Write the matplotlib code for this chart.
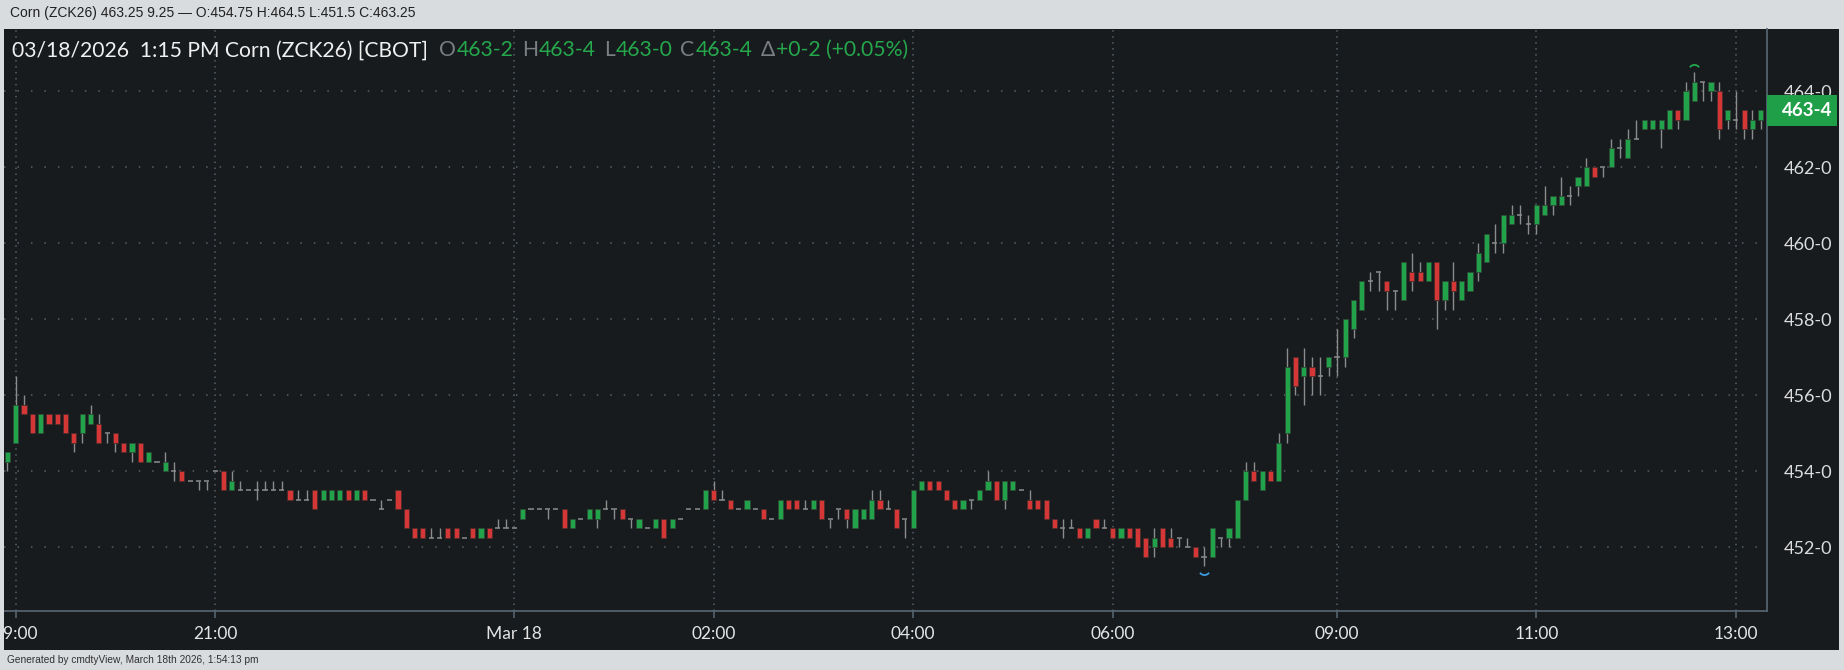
import numpy as np
import pandas as pd
import matplotlib
matplotlib.use('Agg')
import matplotlib.pyplot as plt
import matplotlib.transforms as mtransforms
from matplotlib.patches import Rectangle
from matplotlib.path import Path
from matplotlib.ticker import FuncFormatter

# 5 minute bars, ZCK26, last bar of Mar 17 day session + night + day session Mar 18
times = ([pd.Timestamp('2026-03-17 13:15')]
         + list(pd.date_range('2026-03-17 19:00', '2026-03-18 07:40', freq='5min'))
         + list(pd.date_range('2026-03-18 08:30', '2026-03-18 13:15', freq='5min')))

opens = [
    454.25, 454.75, 455.75, 455.5, 455.0, 455.5, 455.5, 455.5, 455.0, 455.0,
    455.25, 455.25, 455.0, 455.0, 454.75, 454.5, 454.75, 454.25, 454.25, 454.0,
    454.0, 454.0, 453.75, 453.75, 453.75, 454.0, 454.0, 453.5, 453.5, 453.5,
    453.5, 453.5, 453.5, 453.5, 453.5, 453.25, 453.25, 453.5, 453.25, 453.25,
    453.25, 453.5, 453.25, 453.5, 453.25, 453.0, 453.25, 453.5, 453.0, 452.5,
    452.5, 452.25, 452.25, 452.5, 452.5, 452.25, 452.5, 452.25, 452.5, 452.5,
    452.5, 452.5, 452.75, 453.0, 453.0, 453.0, 453.0, 453.0, 452.5, 452.75,
    452.75, 452.75, 453.0, 453.0, 453.0, 452.75, 452.5, 452.5, 452.5, 452.75,
    452.5, 452.75, 453.0, 453.0, 453.0, 453.5, 453.25, 453.25, 453.0, 453.0,
    453.0, 453.0, 452.75, 452.75, 453.25, 453.25, 453.0, 453.0, 453.25, 452.75,
    453.0, 453.0, 452.5, 452.75, 452.75, 453.25, 453.0, 453.0, 452.75, 452.5,
    453.5, 453.75, 453.75, 453.5, 453.25, 453.0, 453.25, 453.25, 453.5, 453.75,
    453.25, 453.5, 453.5, 453.25, 453.25, 453.25, 452.75, 452.5, 452.5, 452.5,
    452.25, 452.75, 452.5, 452.5, 452.25, 452.5, 452.5, 452.25, 452.0, 452.5,
    452.25, 452.25, 452.0, 452.0, 451.75, 451.75, 452.25, 452.25, 452.25, 453.25,
    454.0, 453.5, 454.0, 453.75, 455.0, 457.0, 456.5, 456.75, 456.5, 456.75,
    457.0, 457.0, 457.75, 458.25, 459.0, 459.25, 459.0, 458.75, 458.5, 459.25,
    459.25, 459.0, 459.5, 458.5, 459.0, 458.5, 458.75, 459.25, 459.5, 460.0,
    460.0, 460.5, 460.75, 460.5, 460.5, 460.75, 461.0, 461.0, 461.25, 461.5,
    461.5, 462.0, 462.0, 462.0, 462.5, 462.25, 462.75, 463.0, 463.0, 463.0,
    463.0, 463.5, 463.25, 463.75, 464.25, 464.0, 464.0, 463.25, 463.25, 463.5,
    463.0, 463.25]

highs = [
    454.5, 456.5, 456.0, 455.5, 455.5, 455.5, 455.5, 455.5, 455.0, 455.5,
    455.75, 455.5, 455.0, 455.0, 454.75, 454.75, 454.75, 454.5, 454.25, 454.5,
    454.25, 454.0, 453.75, 453.75, 453.75, 454.0, 454.0, 454.0, 453.75, 453.5,
    453.75, 453.75, 453.75, 453.75, 453.5, 453.5, 453.5, 453.5, 453.5, 453.5,
    453.5, 453.5, 453.5, 453.5, 453.25, 453.25, 453.25, 453.5, 453.0, 452.5,
    452.5, 452.5, 452.5, 452.5, 452.5, 452.25, 452.5, 452.5, 452.5, 452.75,
    452.75, 452.5, 453.0, 453.0, 453.0, 453.0, 453.0, 453.0, 452.75, 452.75,
    453.0, 453.0, 453.25, 453.0, 453.0, 452.75, 452.75, 452.5, 452.75, 452.75,
    452.75, 452.75, 453.0, 453.0, 453.5, 453.75, 453.5, 453.25, 453.0, 453.25,
    453.0, 453.0, 452.75, 453.25, 453.25, 453.25, 453.25, 453.25, 453.25, 452.75,
    453.0, 453.0, 453.0, 453.0, 453.5, 453.5, 453.25, 453.0, 452.75, 453.5,
    453.75, 453.75, 453.75, 453.5, 453.25, 453.25, 453.25, 453.5, 454.0, 453.75,
    453.75, 453.75, 453.5, 453.5, 453.25, 453.25, 452.75, 452.75, 452.75, 452.5,
    452.5, 452.75, 452.75, 452.5, 452.5, 452.5, 452.5, 452.25, 452.5, 452.5,
    452.5, 452.25, 452.25, 452.0, 452.0, 452.5, 452.25, 452.5, 453.25, 454.25,
    454.25, 454.0, 454.0, 455.0, 457.25, 457.0, 457.25, 457.0, 457.0, 457.0,
    457.75, 458.0, 458.5, 459.0, 459.25, 459.25, 459.0, 458.75, 459.5, 459.75,
    459.5, 459.5, 459.5, 459.0, 459.5, 459.0, 459.25, 460.0, 460.25, 460.5,
    460.75, 461.0, 461.0, 460.75, 461.0, 461.5, 461.25, 461.75, 461.5, 461.75,
    462.25, 462.0, 462.0, 462.75, 462.75, 463.0, 463.25, 463.25, 463.25, 463.25,
    463.5, 463.5, 464.25, 464.5, 464.25, 464.25, 464.25, 463.5, 464.0, 463.5,
    463.5, 463.5]

lows = [
    454.0, 454.75, 455.5, 455.0, 455.0, 455.25, 455.25, 455.0, 454.5, 454.75,
    455.25, 454.75, 454.75, 454.5, 454.5, 454.25, 454.25, 454.25, 454.25, 454.0,
    453.75, 453.75, 453.75, 453.5, 453.5, 454.0, 453.5, 453.5, 453.5, 453.5,
    453.25, 453.5, 453.5, 453.5, 453.25, 453.25, 453.25, 453.0, 453.25, 453.25,
    453.25, 453.25, 453.25, 453.25, 453.25, 453.0, 453.25, 453.0, 452.5, 452.25,
    452.25, 452.25, 452.25, 452.25, 452.25, 452.25, 452.25, 452.25, 452.25, 452.5,
    452.5, 452.5, 452.75, 453.0, 453.0, 452.75, 453.0, 452.5, 452.5, 452.75,
    452.75, 452.5, 453.0, 452.75, 452.75, 452.5, 452.5, 452.5, 452.5, 452.25,
    452.5, 452.75, 453.0, 453.0, 453.0, 453.25, 453.25, 453.0, 453.0, 453.0,
    453.0, 452.75, 452.75, 452.75, 453.0, 453.0, 453.0, 453.0, 452.75, 452.5,
    452.75, 452.5, 452.5, 452.75, 452.75, 453.0, 453.0, 452.5, 452.25, 452.5,
    453.5, 453.5, 453.5, 453.25, 453.0, 453.0, 453.0, 453.25, 453.5, 453.25,
    453.0, 453.5, 453.5, 453.0, 453.0, 452.75, 452.5, 452.25, 452.5, 452.25,
    452.25, 452.5, 452.5, 452.25, 452.25, 452.25, 452.0, 451.75, 451.75, 452.0,
    452.0, 452.0, 452.0, 451.75, 451.5, 451.75, 452.0, 452.0, 452.25, 453.25,
    453.75, 453.5, 453.75, 453.75, 454.75, 456.0, 455.75, 456.0, 456.0, 456.5,
    456.5, 456.75, 457.5, 458.25, 458.75, 458.75, 458.25, 458.25, 458.5, 458.75,
    459.0, 459.0, 457.75, 458.25, 458.25, 458.5, 458.75, 459.0, 459.5, 459.75,
    459.75, 460.5, 460.5, 460.25, 460.25, 460.75, 460.75, 461.0, 461.0, 461.25,
    461.5, 461.75, 461.75, 462.0, 462.25, 462.25, 462.75, 463.0, 463.0, 462.5,
    463.0, 463.0, 463.25, 463.75, 463.75, 463.75, 462.75, 463.0, 463.0, 462.75,
    462.75, 463.0]

closes = [
    454.5, 455.75, 455.5, 455.0, 455.5, 455.25, 455.25, 455.0, 454.75, 455.5,
    455.5, 454.75, 455.0, 454.75, 454.5, 454.75, 454.25, 454.5, 454.25, 454.25,
    454.0, 453.75, 453.75, 453.75, 453.75, 454.0, 453.5, 453.75, 453.5, 453.5,
    453.5, 453.5, 453.5, 453.5, 453.25, 453.25, 453.25, 453.0, 453.5, 453.5,
    453.5, 453.25, 453.5, 453.25, 453.25, 453.0, 453.25, 453.0, 452.5, 452.25,
    452.25, 452.25, 452.25, 452.25, 452.25, 452.25, 452.25, 452.5, 452.25, 452.5,
    452.5, 452.5, 453.0, 453.0, 453.0, 453.0, 453.0, 452.5, 452.75, 452.75,
    453.0, 453.0, 453.0, 453.0, 452.75, 452.75, 452.75, 452.5, 452.75, 452.25,
    452.75, 452.75, 453.0, 453.0, 453.5, 453.25, 453.25, 453.0, 453.0, 453.25,
    453.0, 452.75, 452.75, 453.25, 453.0, 453.0, 453.0, 453.25, 452.75, 452.75,
    453.0, 452.75, 453.0, 453.0, 453.25, 453.0, 453.0, 452.5, 452.75, 453.5,
    453.75, 453.5, 453.5, 453.25, 453.0, 453.25, 453.25, 453.5, 453.75, 453.25,
    453.75, 453.75, 453.5, 453.0, 453.0, 452.75, 452.5, 452.5, 452.5, 452.25,
    452.5, 452.5, 452.5, 452.25, 452.5, 452.25, 452.0, 451.75, 452.25, 452.0,
    452.0, 452.25, 452.0, 451.75, 451.75, 452.5, 452.25, 452.5, 453.25, 454.0,
    453.75, 454.0, 453.75, 454.75, 456.75, 456.25, 456.75, 456.5, 456.5, 457.0,
    457.0, 458.0, 458.5, 459.0, 459.0, 459.25, 458.75, 458.75, 459.5, 459.0,
    459.0, 459.5, 458.5, 459.0, 458.75, 459.0, 459.25, 459.75, 460.25, 460.0,
    460.75, 460.75, 460.75, 460.5, 461.0, 461.0, 461.25, 461.25, 461.25, 461.75,
    462.0, 461.75, 462.0, 462.5, 462.5, 462.75, 462.75, 463.25, 463.25, 463.25,
    463.5, 463.25, 464.0, 464.25, 464.25, 464.25, 463.0, 463.5, 463.25, 463.0,
    463.25, 463.5]

tick_times = ['2026-03-17 19:00', '2026-03-17 21:00', '2026-03-18 00:00',
              '2026-03-18 02:00', '2026-03-18 04:00', '2026-03-18 06:00',
              '2026-03-18 09:00', '2026-03-18 11:00', '2026-03-18 13:00']
tick_labels = ['19:00', '21:00', 'Mar 18', '02:00', '04:00', '06:00',
               '09:00', '11:00', '13:00']
price_ticks = [452, 454, 456, 458, 460, 462, 464]

assert len(times) == len(opens) == len(highs) == len(lows) == len(closes)

BG = '#171b1e'
FRAME = '#d9dcdf'
GREEN = '#22a24a'
RED = '#d53636'
WICK = '#8c8c8c'
SPINE = '#55636e'
GRID = '#586066'

plt.rcParams['font.family'] = ['Lato', 'DejaVu Sans']
plt.rcParams['lines.scale_dashes'] = False

W, H = 1844, 670
fig = plt.figure(figsize=(W / 100, H / 100), dpi=100, facecolor=FRAME)

# dark chart panel
fig.patches.append(Rectangle((4 / W, 20 / H), (1839.3 - 4) / W, (650 - 29.3) / H,
                             transform=fig.transFigure, facecolor=BG,
                             edgecolor='none', zorder=-1))

ax = fig.add_axes([4 / W, (H - 610.7) / H, (1766.7 - 4) / W, (610.7 - 29.3) / H])
ax.set_facecolor(BG)

o = np.array(opens)
h = np.array(highs)
l = np.array(lows)
c = np.array(closes)
x = np.arange(len(o))
up = c > o
dn = c < o
eq = c == o

ax.vlines(x, l, h, color=WICK, lw=1.0, zorder=2)
ax.bar(x[up], c[up] - o[up], bottom=o[up], width=0.62, color=GREEN,
       edgecolor='#2b4a35', lw=0.6, zorder=3)
ax.bar(x[dn], o[dn] - c[dn], bottom=c[dn], width=0.62, color=RED,
       edgecolor='#4d2a2a', lw=0.6, zorder=3)
ax.hlines(o[eq], x[eq] - 0.31, x[eq] + 0.31, color=WICK, lw=1.1, zorder=3)

# session high / low markers
hi = int(np.argmax(h))
lo = int(np.argmin(l))
up_arc = Path.arc(35, 145)
dn_arc = Path.arc(215, 325)
ax.plot([hi], [h[hi]], marker=up_arc, ms=8, mew=1.3, mec='#25a84c', mfc='none',
        ls='none', zorder=4,
        transform=mtransforms.offset_copy(ax.transData, fig, x=0, y=2, units='dots'))
ax.plot([lo], [l[lo]], marker=dn_arc, ms=8, mew=1.3, mec='#3a9be0', mfc='none',
        ls='none', zorder=4,
        transform=mtransforms.offset_copy(ax.transData, fig, x=0, y=-3, units='dots'))

ax.set_xlim(-0.41, len(o) - 0.29)
ax.set_ylim(450.33, 465.63)

tick_pos = [times.index(pd.Timestamp(t)) for t in tick_times]
ax.set_xticks(tick_pos)
ax.set_xticklabels(tick_labels)
ax.set_yticks(price_ticks)
ax.yaxis.set_major_formatter(FuncFormatter(
    lambda v, p: '%d-%d' % (int(v), round((v - int(v)) * 8))))
ax.yaxis.tick_right()

ax.tick_params(axis='y', length=0, pad=12, labelsize=13, labelcolor='#dcdcdc')
ax.tick_params(axis='x', length=4.8, width=1.2, color=SPINE, pad=6,
               labelsize=12.5, labelcolor='#e4e4e4')

for s in ['left', 'top']:
    ax.spines[s].set_visible(False)
for s in ['right', 'bottom']:
    ax.spines[s].set_color(SPINE)
    ax.spines[s].set_linewidth(1.3)

ax.grid(axis='y', color=GRID, lw=1.1, linestyle=(0, (1.1, 8.6)), zorder=0)
ax.grid(axis='x', color=GRID, lw=1.1, linestyle=(0, (1.1, 3.2)), zorder=0)
ax.set_axisbelow(True)

# last price box
blend = mtransforms.blended_transform_factory(ax.transAxes, ax.transData)
ax.add_patch(Rectangle((1.0, c[-1] - 0.404), 0.0401, 0.808, transform=blend,
                       facecolor='#1f9f48', edgecolor='none', clip_on=False, zorder=10))
ax.text(1.0232, c[-1], '%d-%d' % (int(c[-1]), round((c[-1] - int(c[-1])) * 8)),
        transform=blend, ha='center', va='center', color='white', fontsize=13.5,
        fontweight='bold', clip_on=False, zorder=11)

# gray strip hides the cut-off part of the first time label
fig.patches.append(Rectangle((0, 0), 4 / W, 1, transform=fig.transFigure,
                             facecolor=FRAME, edgecolor='none', zorder=5))

# header and footer
fig.text(10 / W, (H - 13.3) / H,
         'Corn (ZCK26) 463.25 9.25 \u2014 O:454.75 H:464.5 L:451.5 C:463.25',
         family='Liberation Sans', fontsize=10, color='#202020', va='center')
fig.text(7 / W, (H - 660) / H,
         'Generated by cmdtyView, March 18th 2026, 1:54:13 pm',
         family='Liberation Sans', fontsize=7.3, color='#303030', va='center')

# chart title with colored OHLC readout
WHITE = '#f0f0f0'
GREY = '#7a7f84'
TGREEN = '#25a84c'
segs = [('03/18/2026  1:15 PM Corn (ZCK26) [CBOT]', WHITE, 0),
        ('O', GREY, 11), ('463-2', TGREEN, 1),
        ('H', GREY, 8), ('463-4', TGREEN, 1),
        ('L', GREY, 8), ('463-0', TGREEN, 1),
        ('C', GREY, 8), ('463-4', TGREEN, 1),
        ('\u0394', GREY, 8), ('+0-2 (+0.05%)', TGREEN, 1)]
r = fig.canvas.get_renderer()
xpos = 12.3
ybase = (H - 56.2) / H
for s, col, gap in segs:
    xpos += gap
    t = fig.text(xpos / W, ybase, s, color=col, fontsize=15.2, va='baseline')
    xpos = t.get_window_extent(renderer=r).x1

fig.savefig('out.png', dpi=100, facecolor=FRAME)
